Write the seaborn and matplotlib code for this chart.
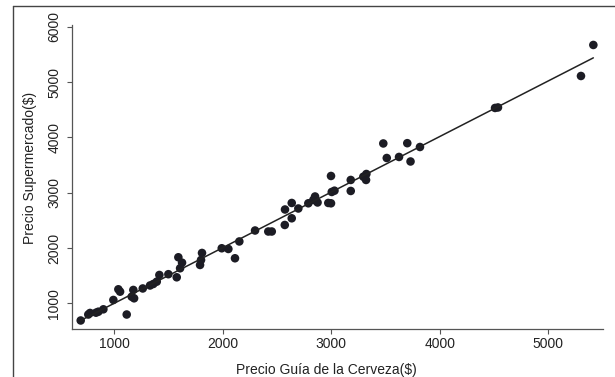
import matplotlib
matplotlib.use("Agg")
import matplotlib.pyplot as plt
from matplotlib.lines import Line2D
import seaborn as sns
import pandas as pd

precio_guia = [690, 760, 776, 831, 853, 899, 991, 1037, 1053, 1114, 1160, 1175, 1182,
               1262, 1329, 1359, 1391, 1415, 1498, 1575, 1590, 1606, 1624, 1790, 1799,
               1808, 1990, 2051, 2112, 2152, 2297, 2419, 2451, 2571, 2573, 2635, 2635,
               2696, 2788, 2834, 2850, 2873, 2972, 2997, 2997, 3004, 3029, 3179, 3179,
               3295, 3323, 3320, 3479, 3511, 3624, 3700, 3730, 3817, 4509, 4536, 5301, 5415]
precio_super = [689, 797, 825, 830, 848, 891, 1060, 1253, 1210, 797, 1119, 1241, 1090,
                1268, 1322, 1349, 1391, 1512, 1526, 1470, 1832, 1633, 1734, 1693, 1783,
                1910, 1995, 1982, 1814, 2118, 2316, 2298, 2298, 2416, 2696, 2814, 2537,
                2714, 2808, 2868, 2931, 2823, 2814, 2808, 3302, 3013, 3036, 3230, 3031,
                3289, 3338, 3230, 3890, 3627, 3646, 3895, 3564, 3826, 4532, 4541, 5110, 5671]
x_ticks = [1000, 2000, 3000, 4000, 5000]
y_ticks = [1000, 2000, 3000, 4000, 5000, 6000]
x_label = "Precio Guía de la Cerveza($)"
y_label = "Precio Supermercado($)"

df = pd.DataFrame({"guia": precio_guia, "super": precio_super})

sns.set_theme(style="white")
plt.rcParams["font.family"] = ["Liberation Sans", "DejaVu Sans"]

W, H = 615, 377
ax_l, ax_r, ax_t, ax_b = 71.7, 603, 25, 329
fig = plt.figure(figsize=(6.15, 3.77), dpi=100)
ax = fig.add_axes([ax_l / W, 1 - ax_b / H, (ax_r - ax_l) / W, (ax_b - ax_t) / H])

sns.regplot(data=df, x="guia", y="super", ax=ax, ci=None,
            scatter_kws=dict(s=38, color="#1c1c24", edgecolor="none", alpha=1),
            line_kws=dict(color="#222222", lw=1.1))

ax.set_xlim(607, 5504)
ax.set_ylim(535, 6032)
ax.set_xticks(x_ticks)
ax.set_yticks(y_ticks)
ax.set_xlabel(x_label, fontsize=10, color="#222222")
ax.set_ylabel(y_label, fontsize=10, color="#222222")
ax.xaxis.set_label_coords((326.5 - ax_l) / (ax_r - ax_l), (ax_b - 370) / (ax_b - ax_t))
ax.xaxis.label.set_va("center")
ax.yaxis.set_label_coords((30 - ax_l) / (ax_r - ax_l), (ax_b - 168) / (ax_b - ax_t))
ax.yaxis.label.set_va("center")
ax.tick_params(axis="both", which="both", length=3.5, width=0.8, color="#555555",
               labelsize=10, labelcolor="#222222", direction="out",
               bottom=True, left=True)
ax.tick_params(axis="x", pad=2)
ax.tick_params(axis="y", pad=4)
for lab in ax.get_yticklabels():
    lab.set_rotation(90)
    lab.set_va("center")
for s in ["top", "right"]:
    ax.spines[s].set_visible(False)
for s in ["left", "bottom"]:
    ax.spines[s].set_color("#555555")
    ax.spines[s].set_linewidth(0.9)

# outer frame (partially visible)
fig.add_artist(Line2D([12.5 / W, 12.5 / W], [0, 1 - 6 / H], transform=fig.transFigure,
                      color="#444444", lw=1))
fig.add_artist(Line2D([12.5 / W, 1], [1 - 6 / H, 1 - 6 / H], transform=fig.transFigure,
                      color="#444444", lw=1))

fig.savefig("out.png", dpi=100)
